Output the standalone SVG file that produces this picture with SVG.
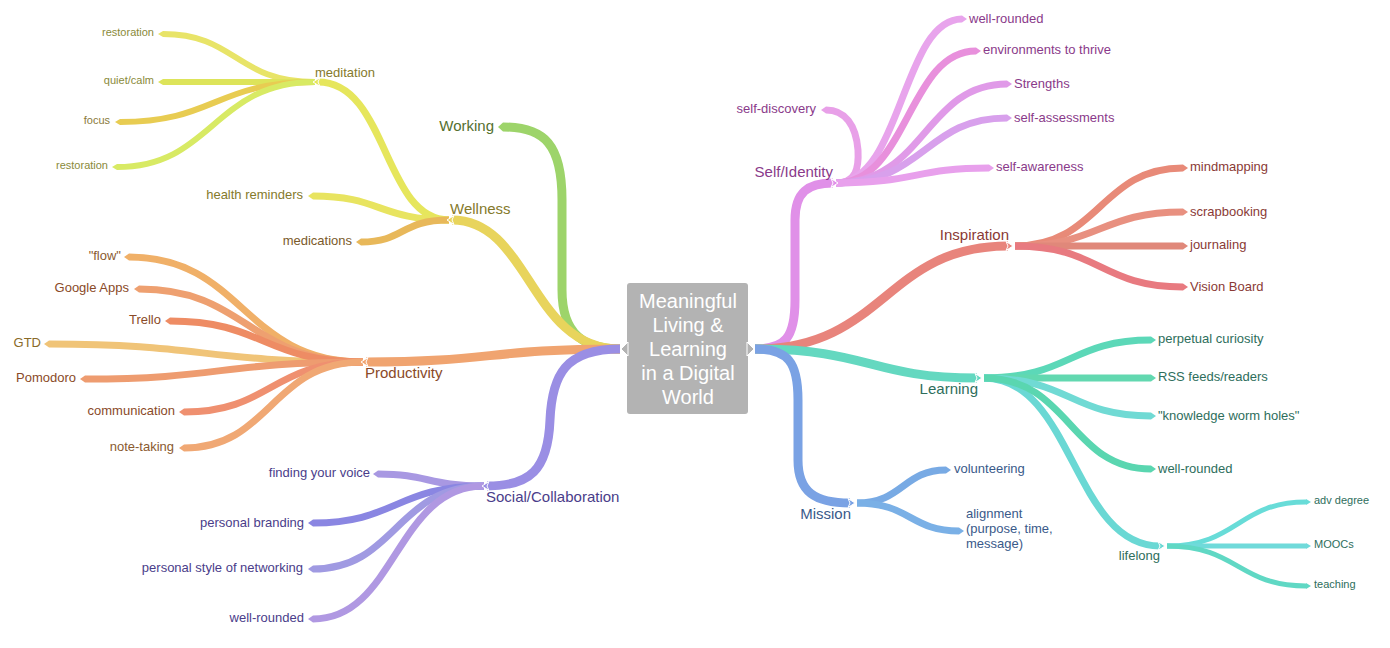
<svg xmlns="http://www.w3.org/2000/svg" width="1390" height="648" viewBox="0 0 1390 648">
<style>
path{fill:none;stroke-linecap:butt;stroke-linejoin:round}
.w1{stroke-width:9}.w2{stroke-width:7}.w3{stroke-width:6}.w4{stroke-width:5}
.tip{stroke:#fff;stroke-width:1}
text{font-family:"Liberation Sans",Arial,sans-serif}
.l1{font-size:15px}.l2{font-size:13px}.l3{font-size:11px}
.e{text-anchor:end}
.ctr{font-size:20px;fill:#fff;text-anchor:middle}
</style>
<rect width="1390" height="648" fill="#fff"/>
<g id="connectors">
<!-- left main -->
<path class="w1" stroke="#9dd46a" d="M620,349 C585,349 562,335 562,290 L562,200 C562,145 545,127 503,127"/>
<polygon fill="#9dd46a" points="503,122.5 498,127 503,131.5"/>
<!-- wellness children -->
<path class="w2" stroke="#e6e65c" d="M449,220 C383,220 388,82 318,82"/>
<path class="w2" stroke="#e8e460" d="M449,220 C380,220 380,196 313,196"/>
<polygon fill="#e8e460" points="313,192.5 308,196 313,199.5"/>
<path class="w2" stroke="#e8b85a" d="M449,220 C400,220 405,242 361,242"/>
<polygon fill="#e8b85a" points="361,238.5 356,242 361,245.5"/>
<!-- meditation children -->
<path class="w3" stroke="#e8e468" d="M315,82 C236,82 236,34 163,34"/>
<polygon fill="#e8e468" points="163,31 158,34 163,37"/>
<path class="w3" stroke="#dde45a" d="M315,82 L163,82"/>
<polygon fill="#dde45a" points="163,79 158,82 163,85"/>
<path class="w3" stroke="#e8cc52" d="M315,82 C215,82 215,122 120,122"/>
<polygon fill="#e8cc52" points="120,119 115,122 120,125"/>
<path class="w3" stroke="#d8ea64" d="M315,82 C213,82 213,167 117,167"/>
<polygon fill="#d8ea64" points="117,164 112,167 117,170"/>
<polygon class="tip" fill="#e6e65c" points="320,77.5 313,82 320,86.5 318,82"/>
<!-- wellness main -->
<path class="w1" stroke="#e8d45c" d="M620,349 C530,349 530,220 452,220"/>
<polygon class="tip" fill="#e8d45c" points="454,215.5 447,220 454,224.5 452,220"/>
<!-- productivity children -->
<path class="w2" stroke="#f0c478" d="M363,362 C203,362 203,344 49,344"/>
<polygon fill="#f0c478" points="49,340.5 44,344 49,347.5"/>
<path class="w2" stroke="#f0b068" d="M363,362 C243,362 243,257 129,257"/>
<polygon fill="#f0b068" points="129,253.5 124,257 129,260.5"/>
<path class="w2" stroke="#eea070" d="M363,362 C248,362 248,289 139,289"/>
<polygon fill="#eea070" points="139,285.5 134,289 139,292.5"/>
<path class="w2" stroke="#ee8c64" d="M363,362 C264,362 264,321 170,321"/>
<polygon fill="#ee8c64" points="170,317.5 165,321 170,324.5"/>
<path class="w2" stroke="#ee9c70" d="M363,362 C221,362 221,379 85,379"/>
<polygon fill="#ee9c70" points="85,375.5 80,379 85,382.5"/>
<path class="w2" stroke="#ef9070" d="M363,362 C271,362 271,412 184,412"/>
<polygon fill="#ef9070" points="184,408.5 179,412 184,415.5"/>
<path class="w2" stroke="#f0a874" d="M363,362 C271,362 271,448 184,448"/>
<polygon fill="#f0a874" points="184,444.5 179,448 184,451.5"/>
<path class="w1" stroke="#f0a470" d="M620,349 C490,349 490,362 366,362"/>
<polygon class="tip" fill="#f0a470" points="368,357.5 361,362 368,366.5 366,362"/>
<!-- social children -->
<path class="w2" stroke="#a898e2" d="M484,486 C428,486 428,474 378,474"/>
<polygon fill="#a898e2" points="378,470.5 373,474 378,477.5"/>
<path class="w2" stroke="#8a86e2" d="M484,486 C396,486 396,523 313,523"/>
<polygon fill="#8a86e2" points="313,519.5 308,523 313,526.5"/>
<path class="w2" stroke="#a09ae2" d="M484,486 C396,486 396,569 313,569"/>
<polygon fill="#a09ae2" points="313,565.5 308,569 313,572.5"/>
<path class="w2" stroke="#b098e2" d="M484,486 C396,486 396,619 313,619"/>
<polygon fill="#b098e2" points="313,615.5 308,619 313,622.5"/>
<path class="w1" stroke="#9a8ee4" d="M620,349 C565,349 552,375 550,420 C548,470 530,486 487,486"/>
<polygon class="tip" fill="#9a8ee4" points="489,481.5 482,486 489,490.5 487,486"/>
<!-- right: self children -->
<path class="w2" stroke="#e8a0e8" d="M836,183 C856,183 859,168 858,150 C856,125 845,110 826,110"/>
<polygon fill="#e8a0e8" points="826,106.5 821,110 826,113.5"/>
<path class="w2" stroke="#e8a4ec" d="M836,183 C902,183 902,19 962,19"/>
<polygon fill="#e8a4ec" points="962,15.5 967,19 962,22.5"/>
<path class="w2" stroke="#e890dc" d="M836,183 C908,183 908,51 976,51"/>
<polygon fill="#e890dc" points="976,47.5 981,51 976,54.5"/>
<path class="w2" stroke="#e09ae8" d="M836,183 C925,183 925,84 1007,84"/>
<polygon fill="#e09ae8" points="1007,80.5 1012,84 1007,87.5"/>
<path class="w2" stroke="#d8a0ec" d="M836,183 C925,183 925,118 1007,118"/>
<polygon fill="#d8a0ec" points="1007,114.5 1012,118 1007,121.5"/>
<path class="w2" stroke="#e8a0ec" d="M836,183 C915,183 915,168 989,168"/>
<polygon fill="#e8a0ec" points="989,164.5 994,168 989,171.5"/>
<path class="w1" stroke="#e090e8" d="M755,349 C785,349 795,338 795,300 L795,220 C795,192 808,183 833,183"/>
<polygon class="tip" fill="#e090e8" points="831,178.5 838,183 831,187.5 833,183"/>
<!-- inspiration children -->
<path class="w2" stroke="#e88a78" d="M1015,246 C1100,246 1100,168 1183,168"/>
<polygon fill="#e88a78" points="1183,164.5 1188,168 1183,171.5"/>
<path class="w2" stroke="#e89080" d="M1015,246 C1100,246 1100,212 1183,212"/>
<polygon fill="#e89080" points="1183,208.5 1188,212 1183,215.5"/>
<path class="w2" stroke="#e0887a" d="M1015,246 L1183,246"/>
<polygon fill="#e0887a" points="1183,242.5 1188,246 1183,249.5"/>
<path class="w2" stroke="#e87a80" d="M1015,246 C1100,246 1100,287 1183,287"/>
<polygon fill="#e87a80" points="1183,283.5 1188,287 1183,290.5"/>
<path class="w1" stroke="#e8847c" d="M755,349 C885,349 885,246 1008,246"/>
<polygon class="tip" fill="#e8847c" points="1006,241.5 1013,246 1006,250.5 1008,246"/>
<!-- learning children -->
<path class="w4" stroke="#68dcd8" d="M1167,546 C1238,546 1238,502 1306,502"/>
<polygon fill="#68dcd8" points="1306,499 1311,502 1306,505"/>
<path class="w4" stroke="#70dada" d="M1167,546 L1306,546"/>
<polygon fill="#70dada" points="1306,543 1311,546 1306,549"/>
<path class="w4" stroke="#60d8c4" d="M1167,546 C1238,546 1238,586 1306,586"/>
<polygon fill="#60d8c4" points="1306,583 1311,586 1306,589"/>
<path class="w2" stroke="#5cd8b8" d="M984,378 C1070,378 1070,340 1151,340"/>
<polygon fill="#5cd8b8" points="1151,336.5 1156,340 1151,343.5"/>
<path class="w2" stroke="#62d8b0" d="M984,378 L1151,378"/>
<polygon fill="#62d8b0" points="1151,374.5 1156,378 1151,381.5"/>
<path class="w2" stroke="#70dad4" d="M984,378 C1070,378 1070,416 1151,416"/>
<polygon fill="#70dad4" points="1151,412.5 1156,416 1151,419.5"/>
<path class="w2" stroke="#6ad8d4" d="M984,378 C1073,378 1073,546 1160,546"/>
<polygon class="tip" fill="#6ad8d4" points="1158,541.5 1165,546 1158,550.5 1160,546"/>
<path class="w2" stroke="#5ad6b0" d="M984,378 C1070,378 1070,469 1151,469"/>
<polygon fill="#5ad6b0" points="1151,465.5 1156,469 1151,472.5"/>
<path class="w1" stroke="#64d8c0" d="M755,349 C870,349 870,378 977,378"/>
<polygon class="tip" fill="#64d8c0" points="975,373.5 982,378 975,382.5 977,378"/>
<!-- mission -->
<path class="w2" stroke="#78aae4" d="M857,503 C903,503 903,470 946,470"/>
<polygon fill="#78aae4" points="946,466.5 951,470 946,473.5"/>
<path class="w2" stroke="#7ab0e6" d="M857,503 C910,503 910,531 959,531"/>
<polygon fill="#7ab0e6" points="959,527.5 964,531 959,534.5"/>
<path class="w1" stroke="#7aa2e4" d="M755,349 C788,349 798,362 798,400 L798,460 C798,492 815,503 850,503"/>
<polygon class="tip" fill="#7aa2e4" points="848,498.5 855,503 848,507.5 850,503"/>
</g>
<g id="center">
<rect x="627" y="283" width="121" height="131" rx="3" fill="#b3b3b3"/>
<polygon fill="#b3b3b3" stroke="#fff" stroke-width="1" points="628,342 621,349 628,356"/>
<polygon fill="#b3b3b3" stroke="#fff" stroke-width="1" points="747,342 754,349 747,356"/>
<text class="ctr" x="688" y="308">Meaningful</text>
<text class="ctr" x="688" y="332">Living &amp;</text>
<text class="ctr" x="688" y="356">Learning</text>
<text class="ctr" x="688" y="380">in a Digital</text>
<text class="ctr" x="688" y="404">World</text>
</g>
<g id="working"><text class="l1 e" x="494" y="131" fill="#55702f">Working</text></g>
<g id="wellness"><text class="l1" x="450" y="214" fill="#857a2c">Wellness</text></g>
<g id="meditation"><text class="l2" x="315" y="77" fill="#857a2c">meditation</text></g>
<g id="restoration1"><text class="l3 e" x="154" y="36" fill="#8a8a3a">restoration</text></g>
<g id="quietcalm"><text class="l3 e" x="154" y="84" fill="#8a8a3a">quiet/calm</text></g>
<g id="focus"><text class="l3 e" x="110" y="124" fill="#8a7a3a">focus</text></g>
<g id="restoration2"><text class="l3 e" x="108" y="169" fill="#8a8a3a">restoration</text></g>
<g id="health"><text class="l2 e" x="303" y="199" fill="#857a2c">health reminders</text></g>
<g id="medications"><text class="l2 e" x="352" y="245" fill="#7a5a2a">medications</text></g>
<g id="productivity"><text class="l1" x="365" y="378" fill="#8a4a28">Productivity</text></g>
<g id="flow"><text class="l2 e" x="121" y="260" fill="#8a5a30">"flow"</text></g>
<g id="googleapps"><text class="l2 e" x="129" y="292" fill="#8a4a28">Google Apps</text></g>
<g id="trello"><text class="l2 e" x="161" y="324" fill="#8a4a28">Trello</text></g>
<g id="gtd"><text class="l2 e" x="41" y="347" fill="#8a6a28">GTD</text></g>
<g id="pomodoro"><text class="l2 e" x="76" y="382" fill="#8a4a28">Pomodoro</text></g>
<g id="communication"><text class="l2 e" x="175" y="415" fill="#8a4a28">communication</text></g>
<g id="notetaking"><text class="l2 e" x="174" y="451" fill="#8a5a30">note-taking</text></g>
<g id="social"><text class="l1" x="486" y="502" fill="#4a3d8a">Social/Collaboration</text></g>
<g id="voice"><text class="l2 e" x="370" y="477" fill="#4a3d8a">finding your voice</text></g>
<g id="branding"><text class="l2 e" x="304" y="527" fill="#4a3d8a">personal branding</text></g>
<g id="networking"><text class="l2 e" x="303" y="572" fill="#4a3d8a">personal style of networking</text></g>
<g id="wellrounded-social"><text class="l2 e" x="304" y="622" fill="#4a3d8a">well-rounded</text></g>
<g id="self"><text class="l1 e" x="833" y="177" fill="#8a3a8a">Self/Identity</text></g>
<g id="selfdiscovery"><text class="l2 e" x="816" y="113" fill="#8a3a8a">self-discovery</text></g>
<g id="wellrounded-self"><text class="l2" x="969" y="23" fill="#8a3a8a">well-rounded</text></g>
<g id="environments"><text class="l2" x="983" y="54" fill="#8a3a8a">environments to thrive</text></g>
<g id="strengths"><text class="l2" x="1014" y="88" fill="#8a3a8a">Strengths</text></g>
<g id="selfassessments"><text class="l2" x="1014" y="122" fill="#8a3a8a">self-assessments</text></g>
<g id="selfawareness"><text class="l2" x="996" y="171" fill="#8a3a8a">self-awareness</text></g>
<g id="inspiration"><text class="l1 e" x="1009" y="240" fill="#8a3a35">Inspiration</text></g>
<g id="mindmapping"><text class="l2" x="1190" y="171" fill="#8a3a35">mindmapping</text></g>
<g id="scrapbooking"><text class="l2" x="1190" y="216" fill="#8a3a35">scrapbooking</text></g>
<g id="journaling"><text class="l2" x="1190" y="249" fill="#8a3a35">journaling</text></g>
<g id="visionboard"><text class="l2" x="1190" y="291" fill="#8a3a35">Vision Board</text></g>
<g id="learning"><text class="l1 e" x="978" y="394" fill="#2e6e5c">Learning</text></g>
<g id="curiosity"><text class="l2" x="1158" y="343" fill="#2e6e5c">perpetual curiosity</text></g>
<g id="rss"><text class="l2" x="1158" y="381" fill="#2e6e5c">RSS feeds/readers</text></g>
<g id="wormholes"><text class="l2" x="1158" y="420" fill="#2e6e5c">"knowledge worm holes"</text></g>
<g id="wellrounded-learning"><text class="l2" x="1158" y="473" fill="#2e6e5c">well-rounded</text></g>
<g id="lifelong"><text class="l2 e" x="1160" y="560" fill="#2e6e5c">lifelong</text></g>
<g id="advdegree"><text class="l3" x="1314" y="504" fill="#2e6e5c">adv degree</text></g>
<g id="moocs"><text class="l3" x="1314" y="548" fill="#2e6e5c">MOOCs</text></g>
<g id="teaching"><text class="l3" x="1314" y="588" fill="#2e6e5c">teaching</text></g>
<g id="mission"><text class="l1 e" x="851" y="519" fill="#3a5a8a">Mission</text></g>
<g id="volunteering"><text class="l2" x="954" y="473" fill="#3a5a8a">volunteering</text></g>
<g id="alignment"><text class="l2" fill="#3a5a8a"><tspan x="966" y="518">alignment</tspan><tspan x="966" y="533">(purpose, time,</tspan><tspan x="966" y="548">message)</tspan></text></g>
</svg>
